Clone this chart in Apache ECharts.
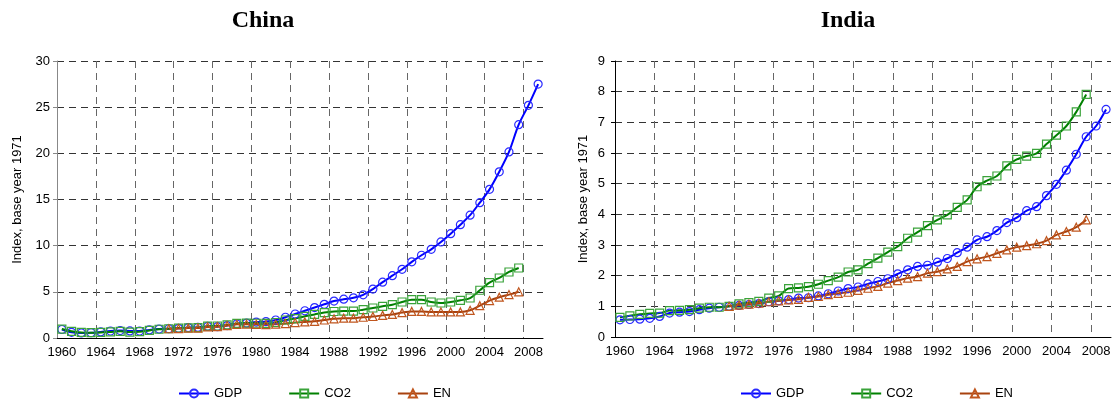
<!DOCTYPE html>
<html>
<head>
    <meta http-equiv="Content-Type" content="text/html; charset=UTF-8">
    <title>China / India</title>
    <style>
        html,body {
            height: 100%;
            width: 100%;
            margin: 0;
            padding: 0;
            background: #fff;
        }
        #chart {
            width: 1115px;
            height: 405px;
        }
    </style>
    <script src="https://cdn.jsdelivr.net/npm/echarts@6/dist/echarts.min.js"></script>
</head>
<body>
<div id="chart"></div>
<script type="text/javascript">
    var years = ['1960','1961','1962','1963','1964','1965','1966','1967','1968','1969',
                 '1970','1971','1972','1973','1974','1975','1976','1977','1978','1979',
                 '1980','1981','1982','1983','1984','1985','1986','1987','1988','1989',
                 '1990','1991','1992','1993','1994','1995','1996','1997','1998','1999',
                 '2000','2001','2002','2003','2004','2005','2006','2007','2008','2009'];

    // China, index base year 1971
    var chinaGDP = [0.92,0.62,0.55,0.57,0.66,0.76,0.8,0.77,0.76,0.88,
                    0.97,1.0,1.05,1.13,1.15,1.25,1.23,1.35,1.52,1.62,
                    1.72,1.78,1.95,2.25,2.6,2.95,3.3,3.65,4.0,4.2,
                    4.35,4.68,5.3,6.05,6.75,7.44,8.25,8.96,9.6,10.4,
                    11.3,12.27,13.3,14.66,16.1,18.0,20.15,23.1,25.2,27.5];
    var chinaCO2 = [0.97,0.72,0.6,0.58,0.6,0.66,0.72,0.64,0.68,0.82,
                    0.95,1.0,1.07,1.1,1.13,1.28,1.3,1.42,1.58,1.62,
                    1.6,1.58,1.68,1.95,2.1,2.35,2.55,2.75,2.87,2.92,
                    2.92,3.07,3.25,3.43,3.61,3.9,4.15,4.15,3.9,3.79,
                    3.9,4.08,4.33,5.17,6.0,6.5,7.15,7.58,null,null];
    var chinaEN = [null,null,null,null,null,null,null,null,null,null,
                   null,1.0,1.02,1.07,1.08,1.2,1.23,1.35,1.48,1.5,
                   1.48,1.45,1.5,1.56,1.67,1.74,1.81,1.95,2.08,2.15,
                   2.15,2.25,2.33,2.45,2.55,2.75,2.88,2.88,2.82,2.82,
                   2.82,2.82,3.0,3.5,4.05,4.42,4.7,5.0,null,null];

    // India, index base year 1971
    var indiaGDP = [0.56,0.57,0.58,0.61,0.67,0.78,0.81,0.83,0.89,0.94,
                    0.97,1.0,1.03,1.06,1.09,1.15,1.18,1.22,1.27,1.28,
                    1.34,1.41,1.5,1.58,1.63,1.73,1.81,1.9,2.06,2.19,
                    2.3,2.34,2.44,2.56,2.75,2.93,3.17,3.27,3.47,3.73,
                    3.89,4.12,4.25,4.61,4.98,5.44,5.96,6.53,6.88,7.42];
    var indiaCO2 = [0.64,0.69,0.74,0.77,0.78,0.86,0.87,0.89,0.94,0.97,
                    0.97,1.0,1.08,1.12,1.16,1.27,1.34,1.58,1.6,1.64,
                    1.72,1.84,1.95,2.12,2.19,2.39,2.57,2.77,2.95,3.22,
                    3.42,3.63,3.82,3.98,4.23,4.47,4.9,5.1,5.25,5.58,
                    5.79,5.9,5.99,6.29,6.58,6.88,7.34,7.91,null,null];
    var indiaEN = [null,null,null,null,null,null,null,null,null,null,
                   null,1.0,1.04,1.07,1.1,1.15,1.18,1.21,1.23,1.29,
                   1.32,1.38,1.42,1.46,1.52,1.59,1.65,1.76,1.84,1.92,
                   1.97,2.08,2.13,2.22,2.3,2.46,2.55,2.62,2.73,2.84,
                   2.93,2.98,3.04,3.14,3.33,3.44,3.58,3.82,null,null];

    var seriesNames = ['GDP', 'CO2', 'EN'];
    var yTitle = 'Index, base year 1971';

    var font = 'Liberation Sans, Arial, sans-serif';

    // 每条线的样式：线色、标记、标记边框色
    var styles = {
        GDP: {line: '#0000ff', symbol: 'circle', border: '#2a2aff', size: 8},
        CO2: {line: '#008000', symbol: 'rect', border: '#3aa33a', size: 8},
        EN:  {line: '#a8420f', symbol: 'triangle', border: '#c0561e', size: 8}
    };

    function makeSeries(name, data, idx) {
        var s = styles[name];
        return {
            name: name,
            type: 'line',
            xAxisIndex: idx,
            yAxisIndex: idx,
            data: data,
            smooth: 0.3,
            symbol: s.symbol,
            symbolSize: s.size,
            showAllSymbol: true,
            lineStyle: {color: s.line, width: 2},
            itemStyle: {color: 'rgba(255,255,255,0)', borderColor: s.border, borderWidth: 1.2},
            emphasis: {disabled: true},
            animation: false
        };
    }

    function makeXAxis(idx) {
        return {
            type: 'category',
            gridIndex: idx,
            data: years,
            boundaryGap: true,
            axisLine: {lineStyle: {color: '#000', width: 1}},
            axisTick: {interval: 3, length: 5, lineStyle: {color: '#000'}},
            axisLabel: {interval: 3, color: '#000', fontSize: 13, fontFamily: font, margin: 8},
            splitLine: {show: true, interval: 3, showMaxLine: false,
                        lineStyle: {color: '#666', type: [7, 5], width: 1}}
        };
    }

    function makeYAxis(idx, max, step, axisColor, gap, margin) {
        return {
            type: 'value',
            gridIndex: idx,
            min: 0,
            max: max,
            interval: step,
            name: yTitle,
            nameLocation: 'middle',
            nameRotate: 90,
            nameGap: gap,
            nameTextStyle: {color: '#000', fontSize: 13, fontFamily: font},
            axisLine: {show: true, lineStyle: {color: axisColor}},
            axisTick: {show: true, length: 4, lineStyle: {color: axisColor}},
            axisLabel: {color: '#000', fontSize: 13, fontFamily: font, margin: margin},
            splitLine: {show: true, lineStyle: {color: '#333', type: [7, 5], width: 1}}
        };
    }

    var myChart = echarts.init(document.getElementById('chart'), null, {renderer: 'canvas'});
    var option = {
        animation: false,
        title: [
            {text: 'China', left: 258, top: 4, textAlign: 'center',
             textStyle: {fontFamily: 'Liberation Serif, Times New Roman, serif', fontWeight: 'bold', fontSize: 24, color: '#000'}},
            {text: 'India', left: 843, top: 4, textAlign: 'center',
             textStyle: {fontFamily: 'Liberation Serif, Times New Roman, serif', fontWeight: 'bold', fontSize: 24, color: '#000'}}
        ],
        legend: [
            {data: seriesNames, left: 173, top: 382, itemWidth: 30, itemHeight: 10, itemGap: 46,
             textStyle: {color: '#000', fontSize: 13, fontFamily: font}},
            {data: seriesNames, left: 735, top: 382, itemWidth: 30, itemHeight: 10, itemGap: 46,
             textStyle: {color: '#000', fontSize: 13, fontFamily: font}}
        ],
        grid: [
            {left: 57, top: 61, width: 486, height: 277, containLabel: false, outerBoundsMode: 'none'},
            {left: 615, top: 61, width: 496, height: 276, containLabel: false, outerBoundsMode: 'none'}
        ],
        xAxis: [makeXAxis(0), makeXAxis(1)],
        yAxis: [makeYAxis(0, 30, 5, '#888', 33, 7), makeYAxis(1, 9, 1, '#000', 25, 10)],
        series: [
            makeSeries('GDP', chinaGDP, 0),
            makeSeries('CO2', chinaCO2, 0),
            makeSeries('EN', chinaEN, 0),
            makeSeries('GDP', indiaGDP, 1),
            makeSeries('CO2', indiaCO2, 1),
            makeSeries('EN', indiaEN, 1)
        ]
    };
    myChart.setOption(option);
</script>
</body>
</html>
